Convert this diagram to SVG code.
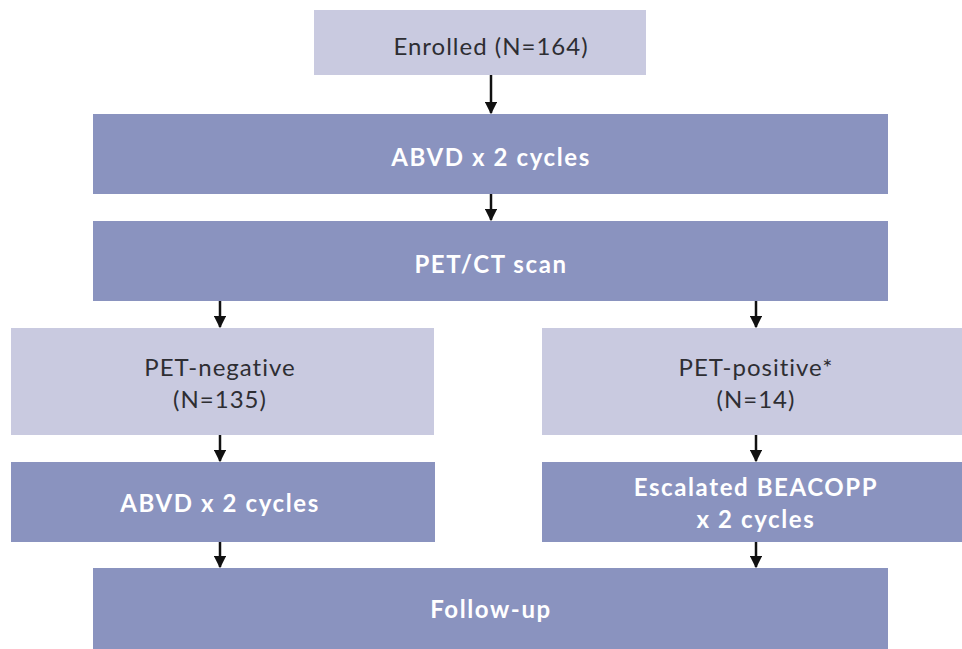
<svg xmlns="http://www.w3.org/2000/svg" width="962" height="649" viewBox="0 0 962 649">
<defs>
<style>
.light{fill:#c9cae0}
.dark{fill:#8a93bf}
.lt{font-family:Lato,"Liberation Sans",sans-serif;font-size:24px;letter-spacing:1px;font-variant-ligatures:none;fill:#2e2e33;text-anchor:middle;dominant-baseline:central}
.dt{font-family:Lato,"Liberation Sans",sans-serif;font-size:24px;letter-spacing:1.6px;font-variant-ligatures:none;font-weight:bold;fill:#ffffff;text-anchor:middle;dominant-baseline:central}
.conn{stroke:#111;stroke-width:2.5;fill:none}
</style>
<marker id="ah" viewBox="0 0 10 10" refX="9" refY="5" markerWidth="5" markerHeight="5" orient="auto" markerUnits="strokeWidth">
<path d="M0,0 L10,5 L0,10 z" fill="#111"/>
</marker>
</defs>
<rect width="962" height="649" fill="#ffffff"/>
<g id="enrolled"><rect class="light" x="314" y="10" width="332" height="65"/><text class="lt" x="491" y="45">Enrolled (N=164)</text></g>
<g id="abvd1"><rect class="dark" x="93" y="114" width="795" height="80"/><text class="dt" x="491" y="156">ABVD x 2 cycles</text></g>
<g id="petct"><rect class="dark" x="93" y="221" width="795" height="80"/><text class="dt" x="491" y="263">PET/CT scan</text></g>
<g id="petneg"><rect class="light" x="11" y="328" width="423" height="107"/><text class="lt" x="220" y="366">PET-negative</text><text class="lt" x="220" y="398">(N=135)</text></g>
<g id="petpos"><rect class="light" x="542" y="328" width="420" height="107"/><text class="lt" x="756" y="366">PET-positive*</text><text class="lt" x="756" y="398">(N=14)</text></g>
<g id="abvd2"><rect class="dark" x="11" y="462" width="424" height="80"/><text class="dt" x="220" y="502">ABVD x 2 cycles</text></g>
<g id="beacopp"><rect class="dark" x="542" y="462" width="420" height="80"/><text class="dt" x="756" y="486">Escalated BEACOPP</text><text class="dt" x="756" y="518">x 2 cycles</text></g>
<g id="followup"><rect class="dark" x="93" y="568" width="795" height="81"/><text class="dt" x="491" y="608">Follow-up</text></g>
<g id="connectors">
<line class="conn" x1="491" y1="75" x2="491" y2="113" marker-end="url(#ah)"/>
<line class="conn" x1="491" y1="194" x2="491" y2="220" marker-end="url(#ah)"/>
<line class="conn" x1="220" y1="301" x2="220" y2="327" marker-end="url(#ah)"/>
<line class="conn" x1="756" y1="301" x2="756" y2="327" marker-end="url(#ah)"/>
<line class="conn" x1="220" y1="435" x2="220" y2="461" marker-end="url(#ah)"/>
<line class="conn" x1="756" y1="435" x2="756" y2="461" marker-end="url(#ah)"/>
<line class="conn" x1="220" y1="542" x2="220" y2="567" marker-end="url(#ah)"/>
<line class="conn" x1="756" y1="542" x2="756" y2="567" marker-end="url(#ah)"/>
</g>
</svg>
